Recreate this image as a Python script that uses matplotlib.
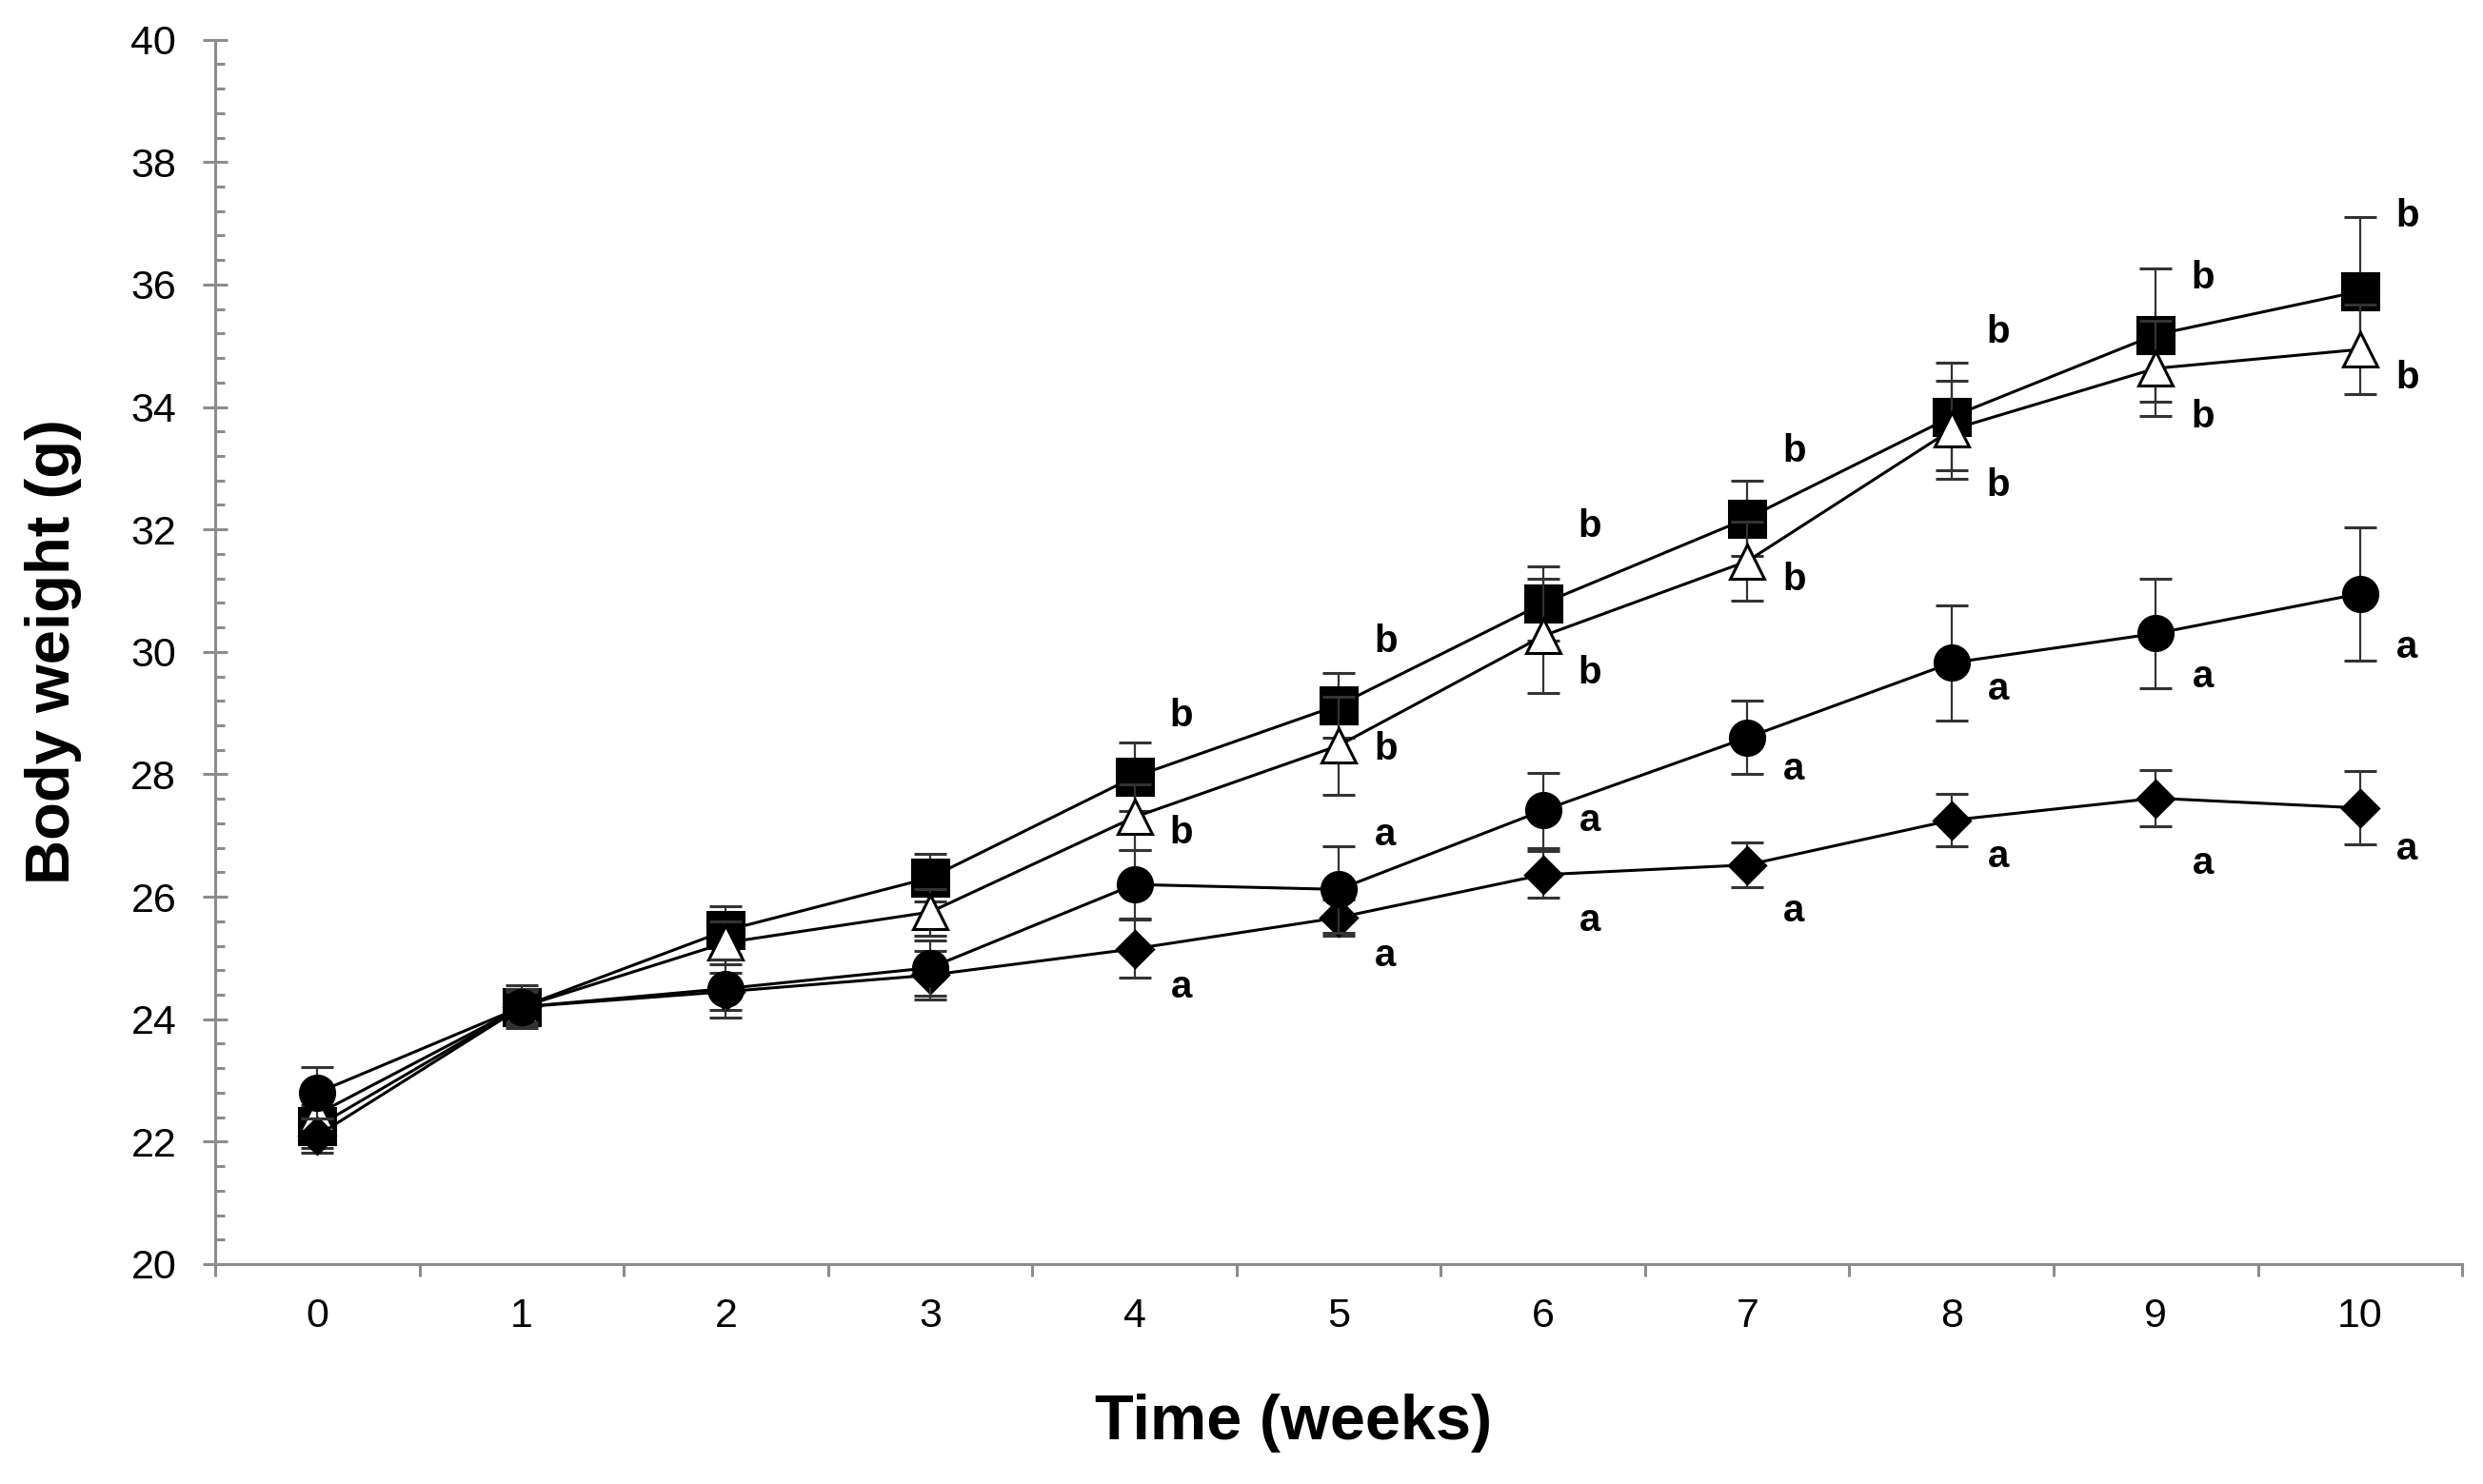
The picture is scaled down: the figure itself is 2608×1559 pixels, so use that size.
import numpy as np
import matplotlib.pyplot as plt
from matplotlib.ticker import MultipleLocator

plt.rcParams['font.family'] = ['Liberation Sans', 'DejaVu Sans']

weeks = [0, 1, 2, 3, 4, 5, 6, 7, 8, 9, 10]

# body weight means and error bars (g)
square_mean = [22.25, 24.2, 25.45, 26.31, 27.96, 29.13, 30.79, 32.18, 33.84, 35.18, 35.89]
square_err = [0.35, 0.35, 0.4, 0.39, 0.56, 0.53, 0.6, 0.61, 0.88, 1.09, 1.21]
triangle_mean = [22.45, 24.2, 25.25, 25.75, 27.3, 28.47, 30.26, 31.48, 33.63, 34.63, 34.94]
triangle_err = [0.3, 0.3, 0.35, 0.38, 0.54, 0.8, 0.93, 0.64, 0.8, 0.78, 0.73]
circle_mean = [22.8, 24.2, 24.5, 24.84, 26.2, 26.12, 27.41, 28.6, 29.82, 30.3, 30.95]
circle_err = [0.42, 0.3, 0.47, 0.45, 0.56, 0.71, 0.61, 0.6, 0.94, 0.9, 1.09]
diamond_mean = [22.1, 24.2, 24.45, 24.72, 25.15, 25.66, 26.36, 26.52, 27.25, 27.61, 27.45]
diamond_err = [0.28, 0.25, 0.3, 0.4, 0.47, 0.3, 0.38, 0.37, 0.43, 0.46, 0.6]

# significance letters: weeks, letter, height of the letter
square_sig_weeks = [4, 5, 6, 7, 8, 9, 10]
square_sig_y = [28.96, 30.17, 32.05, 33.27, 35.22, 36.11, 37.12]
triangle_sig_weeks = [4, 5, 6, 7, 8, 9, 10]
triangle_sig_y = [27.04, 28.41, 29.66, 31.18, 32.72, 33.84, 34.47]
circle_sig_weeks = [5, 6, 7, 8, 9, 10]
circle_sig_y = [27.01, 27.25, 28.08, 29.39, 29.59, 30.07]
diamond_sig_weeks = [4, 5, 6, 7, 8, 9, 10]
diamond_sig_y = [24.52, 25.03, 25.61, 25.76, 26.65, 26.54, 26.78]

gray = '#8c8c8c'

fig = plt.figure(figsize=(26.08, 15.59), dpi=100)
ax = fig.add_axes([0.0867, 0.1482, 0.9049, 0.8251])

common = dict(color='black', lw=2.2, ecolor='#333333', elinewidth=1.6,
              capsize=12, capthick=2.2, mec='black', mew=2.2)

ax.errorbar(weeks, square_mean, yerr=square_err, fmt='s-', ms=27, mfc='black', zorder=3, **common)
ax.errorbar(weeks, triangle_mean, yerr=triangle_err, fmt='^-', ms=26, mfc='white', zorder=4, **common)
ax.errorbar(weeks, diamond_mean, yerr=diamond_err, fmt='D-', ms=19, mfc='black', zorder=5, **common)
ax.errorbar(weeks, circle_mean, yerr=circle_err, fmt='o-', ms=26, mfc='black', zorder=6, **common)

dx = 0.23
for w, y in zip(square_sig_weeks, square_sig_y):
    ax.text(w + dx, y, 'b', ha='center', va='center', fontsize=29, fontweight='bold')
for w, y in zip(triangle_sig_weeks, triangle_sig_y):
    ax.text(w + dx, y, 'b', ha='center', va='center', fontsize=29, fontweight='bold')
for w, y in zip(circle_sig_weeks, circle_sig_y):
    ax.text(w + dx, y, 'a', ha='center', va='center', fontsize=29, fontweight='bold')
for w, y in zip(diamond_sig_weeks, diamond_sig_y):
    ax.text(w + dx, y, 'a', ha='center', va='center', fontsize=29, fontweight='bold')

ax.set_xlim(-0.5, 10.5)
ax.set_ylim(20, 40)

for s in ['top', 'right']:
    ax.spines[s].set_visible(False)
for s in ['left', 'bottom']:
    ax.spines[s].set_color(gray)
    ax.spines[s].set_linewidth(2.2)

ax.set_yticks(range(20, 41, 2))
ax.yaxis.set_minor_locator(MultipleLocator(0.4))
ax.tick_params(axis='y', which='major', direction='inout', length=19, width=2.2,
               color=gray, labelsize=31, pad=20)
ax.tick_params(axis='y', which='minor', direction='in', length=7, width=2.2, color=gray)

ax.set_xticks(weeks)
ax.set_xticks(np.arange(-0.5, 11, 1), minor=True)
ax.tick_params(axis='x', which='major', length=0, labelsize=31, pad=25)
ax.tick_params(axis='x', which='minor', direction='out', length=9.4, width=2.2, color=gray)

ax.set_xlabel('Time (weeks)', fontsize=48, fontweight='bold')
ax.set_ylabel('Body weight (g)', fontsize=47, fontweight='bold')
ax.xaxis.set_label_coords(0.48, -0.13)
ax.yaxis.set_label_coords(-0.072, 0.5)
ax.xaxis.label.set_va('center')
ax.yaxis.label.set_va('center')

fig.savefig('out.png', dpi=100)
